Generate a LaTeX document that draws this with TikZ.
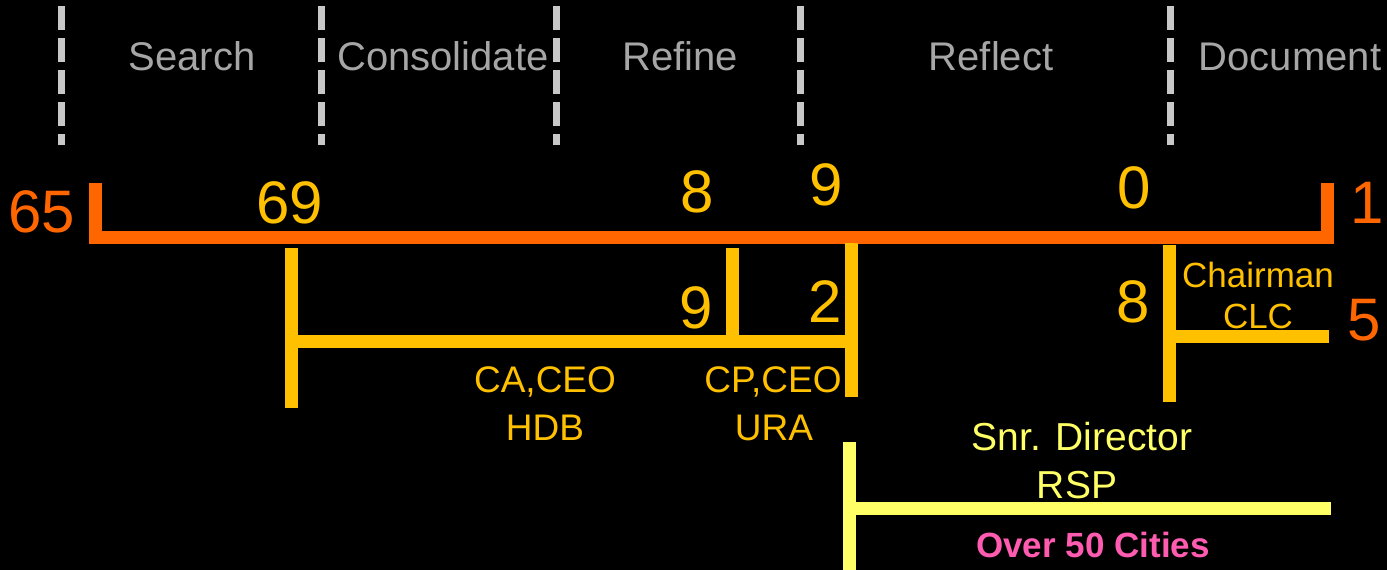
\documentclass[tikz,border=0pt]{standalone}
\usepackage{fontspec}
\setmainfont{Liberation Sans}
\definecolor{tlorange}{HTML}{FF6600}
\definecolor{tlamber}{HTML}{FFC000}
\definecolor{tlyellow}{HTML}{FFFF66}
\definecolor{tlgrey}{HTML}{A6A6A6}
\definecolor{tldash}{HTML}{C8C8C8}
\definecolor{tlpink}{HTML}{FF5BB0}
\tikzset{
	phase/.style={anchor=base,inner sep=0,text=tlgrey,font=\fontsize{40}{48}\selectfont},
	year/.style={anchor=base,inner sep=0,font=\fontsize{60}{72}\selectfont},
	post/.style={anchor=base,inner sep=0,font=\fontsize{37}{44}\selectfont},
	divider/.style={draw=tldash,line width=7pt,dash pattern=on 24pt off 8pt},
	bar/.style={line width=13pt,line join=miter},
}
\begin{document}
\begin{tikzpicture}[x=1pt,y=-1pt]
	\fill[black] (0,0) rectangle (1387,570);
	\useasboundingbox (0,0) rectangle (1387,570);
	\foreach \x in {61,321,556,800,1170}
		\draw[divider] (\x,6) -- (\x,145);
	\node[phase] (search) at (192,70) {Search};
	\node[phase] (consolidate) at (443,70) {Consolidate};
	\node[phase] (refine) at (680,70) {Refine};
	\node[phase] (reflect) at (991,70) {Reflect};
	\node[phase] (document) at (1290,70) {Document};
	\coordinate (o1) at (95,183);
	\coordinate (o2) at (95,237);
	\coordinate (o3) at (1327,237);
	\coordinate (o4) at (1327,183);
	\draw[bar,tlorange] (o1) -- (o2) -- (o3) -- (o4);
	\coordinate (a1) at (291,248);
	\coordinate (a2) at (291,408);
	\coordinate (a3) at (291,341);
	\coordinate (a4) at (851,341);
	\coordinate (a5) at (732,248);
	\coordinate (a6) at (732,341);
	\coordinate (a7) at (851,243);
	\coordinate (a8) at (851,397);
	\draw[bar,tlamber] (a1) -- (a2);
	\draw[bar,tlamber] (a3) -- (a4);
	\draw[bar,tlamber] (a5) -- (a6);
	\draw[bar,tlamber] (a7) -- (a8);
	\coordinate (c1) at (1169,245);
	\coordinate (c2) at (1169,402);
	\coordinate (c3) at (1169,336);
	\coordinate (c4) at (1329,336);
	\draw[bar,tlamber] (c1) -- (c2);
	\draw[bar,tlamber] (c3) -- (c4);
	\coordinate (r1) at (849,442);
	\coordinate (r2) at (849,570);
	\coordinate (r3) at (849,508);
	\coordinate (r4) at (1331,508);
	\draw[bar,tlyellow] (r1) -- (r2);
	\draw[bar,tlyellow] (r3) -- (r4);
	\node[year,text=tlorange] (y65) at (42,232) {65};
	\node[year,text=tlamber] (y69) at (290,223) {69};
	\node[year,text=tlamber] (y8) at (697,212) {8};
	\node[year,text=tlamber] (y9) at (826,205) {9};
	\node[year,text=tlamber] (y0) at (1134,208) {0};
	\node[year,text=tlorange] (y1) at (1367,223) {1};
	\node[year,text=tlamber] (m9) at (696,328) {9};
	\node[year,text=tlamber] (m2) at (825,322) {2};
	\node[year,text=tlamber] (m8) at (1133,322) {8};
	\node[year,text=tlorange] (m5) at (1364,340) {5};
	\node[post,text=tlamber] (hdb1) at (545,392) {CA,CEO};
	\node[post,text=tlamber] (hdb2) at (545,440) {HDB};
	\node[post,text=tlamber] (ura1) at (773,392) {CP,CEO};
	\node[post,text=tlamber] (ura2) at (774,440) {URA};
	\node[post,text=tlamber,font=\fontsize{35}{42}\selectfont] (clc1) at (1258,287) {Chairman};
	\node[post,text=tlamber,font=\fontsize{35}{42}\selectfont] (clc2) at (1258,328) {CLC};
	\node[post,text=tlyellow,font=\fontsize{39}{46}\selectfont] (rsp1) at (1082,450) {Snr. Director};
	\node[post,text=tlyellow,font=\fontsize{39}{46}\selectfont] (rsp2) at (1077,498) {RSP};
	\node[post,text=tlpink,font=\bfseries\fontsize{35}{42}\selectfont] (cities) at (1093,557) {Over 50 Cities};
\end{tikzpicture}
\end{document}
